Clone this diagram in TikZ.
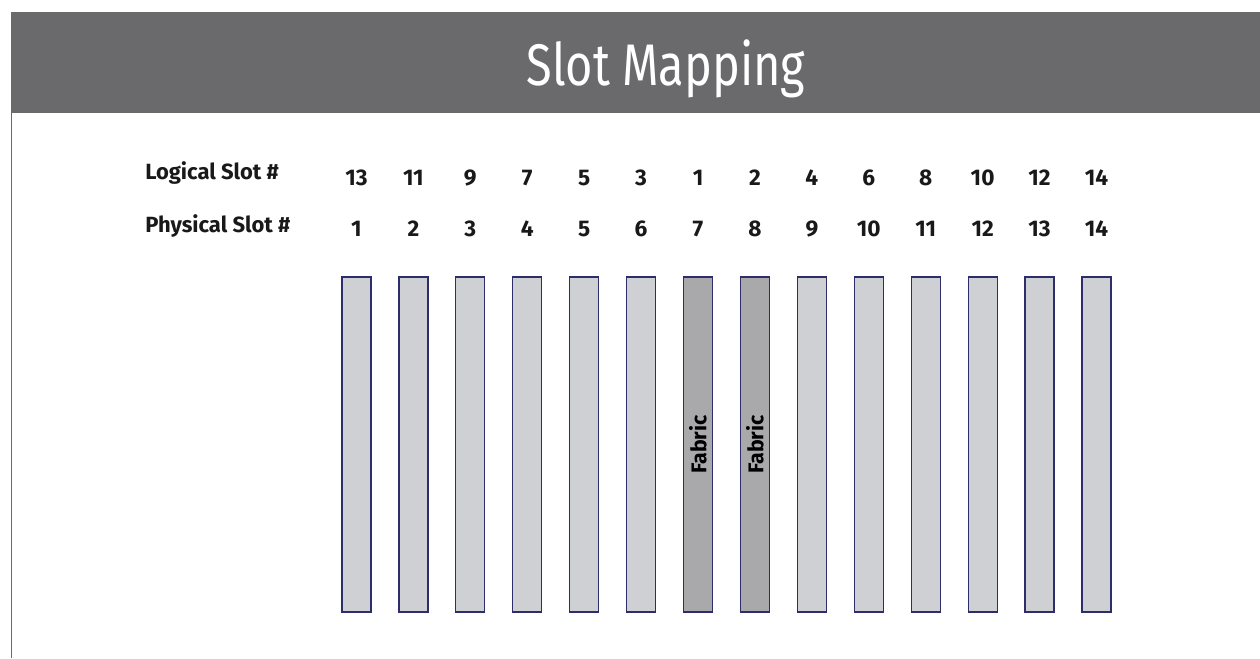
\documentclass[tikz,border=0pt]{standalone}
\usepackage{fontspec}
\setmainfont{Fira Sans}
\newfontfamily\titlefont[FakeStretch=0.8]{Fira Sans}
\usetikzlibrary{positioning}
\definecolor{barGray}{HTML}{6A6A6C}
\definecolor{slotFill}{HTML}{CFD0D3}
\definecolor{fabricFill}{HTML}{A9A9AB}
\definecolor{slotEdge}{HTML}{2E2D6B}
\tikzset{
  rowlabel/.style={anchor=base west, inner sep=0pt, font=\fontsize{16.5}{16.5}\selectfont\bfseries, text=black!90},
  slotnum/.style={anchor=base, inner sep=0pt, font=\fontsize{17}{17}\selectfont\bfseries, text=black!90},
  slotbox/.style={rectangle, draw=slotEdge, line width=0.9pt, fill=slotFill, minimum width=21.75pt, minimum height=251.25pt, inner sep=0pt},
  fabricbox/.style={slotbox, fill=fabricFill},
}
\begin{document}
\begin{tikzpicture}[x=0.75pt, y=-0.75pt]
  \useasboundingbox (0,0) rectangle (1260,658);
  % title bar and left edge
  \fill[barGray] (11,12) rectangle (1260,113);
  \draw[barGray, line width=1pt] (11.5,113) -- (11.5,658);
  \node[anchor=base, inner sep=0pt, text=white, font=\titlefont\fontsize{44}{44}\selectfont] (title) at (666,85) {Slot Mapping};
  % row labels
  \node[rowlabel] (logical) at (145,179) {Logical Slot \#};
  \node[rowlabel] (physical) at (145,232) {Physical Slot \#};
  % slots
  \foreach \lg [count=\i] in {13,11,9,7,5,3,1,2,4,6,8,10,12,14} {
    \pgfmathsetmacro{\cx}{356.5+(\i-1)*56.92}
    \node[slotnum] (lg\i) at (\cx,185) {\lg};
    \node[slotnum] (ph\i) at (\cx,236) {\i};
    \ifnum\i=7
      \node[fabricbox] (slot\i) at (\cx,444.5) {};
    \else\ifnum\i=8
      \node[fabricbox] (slot\i) at (\cx,444.5) {};
    \else
      \node[slotbox] (slot\i) at (\cx,444.5) {};
    \fi\fi
  }
  \node[rotate=90, inner sep=0pt, font=\fontsize{16}{16}\selectfont\bfseries] at (slot7) {Fabric};
  \node[rotate=90, inner sep=0pt, font=\fontsize{16}{16}\selectfont\bfseries] at (slot8) {Fabric};
\end{tikzpicture}
\end{document}
